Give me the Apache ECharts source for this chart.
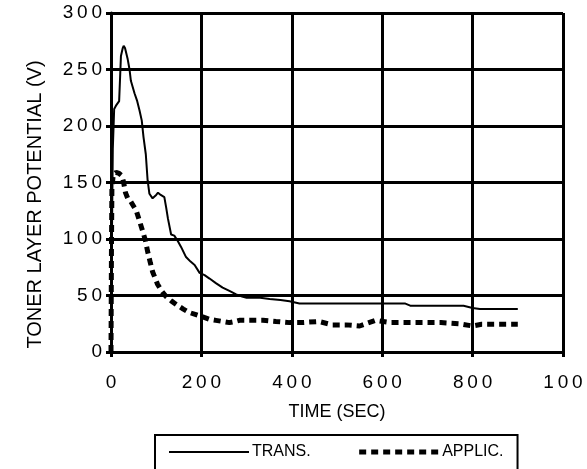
<!DOCTYPE html>
<html>
<head>
<meta charset="utf-8">
<script src="https://cdn.jsdelivr.net/npm/echarts@6/dist/echarts.min.js"></script>
<style>
html,body{margin:0;padding:0;background:#fff;}
#c{width:587px;height:469px;}
</style>
</head>
<body>
<div id="c"></div>
<script>
// ---- data ----
const seriesNames = ['TRANS.', 'APPLIC.'];
const xTickLabels = ['0', '200', '400', '600', '800', '100'];
const yTickLabels = ['0', '50', '100', '150', '200', '250', '300'];
const transData = [
  [0,0],[2,100],[4,180],[7,215],[11,218],[18,222],[22,262],[26,269],[28,271],[31,269],
  [37,259],[41,250],[44,240],[52,229],[58,222],[63,214],[68,205],[72,190],[77,175],[81,152],
  [85,140],[92,136],[100,139],[104,141],[110,139],[118,137],[122,128],[126,118],[133,104],[140,103],
  [148,98],[155,93],[166,84],[176,80],[185,77],[196,70],[207,68],[218,65],[232,61],[247,57],
  [262,54],[277,51],[290,49],[300,48],[330,48],[351,47],[375,46],[395,45],[417,43],[450,43],
  [500,43],[550,43],[600,43],[650,43],[662,41],[720,41],[780,41],[800,39],[816,38],[860,38],[900,38]
];
const applicData = [
  [0,0],[1,90],[2,145],[5,157],[11,159],[18,158],[24,156],[28,150],[32,141],[37,136],
  [44,133],[50,129],[56,125],[63,116],[70,107],[76,99],[81,89],[87,79],[92,71],[98,65],
  [103,60],[112,54],[122,49],[134,45],[148,41],[160,38],[173,35],[188,33],[203,31],[217,29],
  [232,28],[247,27],[262,26],[275,27],[284,28],[310,28],[336,28],[365,27],[395,26],[420,26],
  [460,27],[490,24],[520,24],[550,23],[585,28],[620,26],[680,26],[730,26],[770,25],[800,23],
  [820,24.5],[860,24.5],[900,24.5]
];
// ---------------------------------------

const spaced = s => String(s).split('').join('\u2009');
const chart = echarts.init(document.getElementById('c'), null, {renderer: 'canvas'});
const FONT = '"Liberation Sans", Arial, Helvetica, sans-serif';
const thick = {color: '#000', width: 3};
const transLine = {color: '#000', width: 2, type: 'solid'};
const applicLine = {color: '#000', width: 5, type: [7, 5], cap: 'butt'};
const tickFont = {fontFamily: 'Liberation Sans', fontSize: 19, fontWeight: 'normal', color: '#000'};

chart.setOption({
  animation: false,
  backgroundColor: '#fff',
  textStyle: {fontFamily: FONT, color: '#000'},
  grid: {left: 111, right: 24, top: 13, bottom: 117, outerBoundsMode: 'none'},
  legend: {
    data: [
      {name: seriesNames[0], lineStyle: transLine},
      {name: seriesNames[1], lineStyle: applicLine}
    ],
    left: 155, top: 435,
    orient: 'horizontal',
    itemWidth: 80, itemHeight: 14, itemGap: 46,
    padding: [9, 14, 20, 13],
    borderColor: '#000', borderWidth: 2, borderRadius: 0,
    itemStyle: {opacity: 0, borderWidth: 0},
    textStyle: {fontFamily: FONT, fontSize: 16, color: '#000', padding: [0,0,0,-2]}
  },
  xAxis: {
    type: 'value', min: 0, max: 1000, interval: 200,
    name: 'TIME (SEC)', nameLocation: 'middle', nameGap: 51,
    nameTextStyle: {fontSize: 18, color: '#000', fontFamily: FONT},
    axisLine: {show: true, lineStyle: thick},
    axisTick: {show: true, length: 5, lineStyle: thick},
    splitLine: {show: true, lineStyle: thick},
    axisLabel: Object.assign({margin: 21,
      formatter: (v) => spaced(xTickLabels[Math.round(v / 200)])}, tickFont)
  },
  yAxis: {
    type: 'value', min: 0, max: 300, interval: 50,
    name: 'TONER LAYER POTENTIAL (V)', nameLocation: 'middle', nameGap: 66,
    nameTextStyle: {fontSize: 20, color: '#000', fontFamily: FONT, padding: [0, 44, 0, 0]},
    axisLine: {show: true, lineStyle: thick},
    axisTick: {show: true, length: 5, lineStyle: thick},
    splitLine: {show: true, lineStyle: thick},
    axisLabel: Object.assign({margin: 9,
      formatter: (v) => spaced(yTickLabels[Math.round(v / 50)])}, tickFont)
  },
  series: [
    {
      name: seriesNames[0], type: 'line', data: transData,
      symbol: 'none', smooth: false, z: 3,
      itemStyle: {color: '#000'},
      lineStyle: transLine
    },
    {
      name: seriesNames[1], type: 'line', data: applicData,
      symbol: 'none', smooth: false, z: 4,
      itemStyle: {color: '#000'},
      lineStyle: applicLine
    }
  ]
});
</script>
</body>
</html>
